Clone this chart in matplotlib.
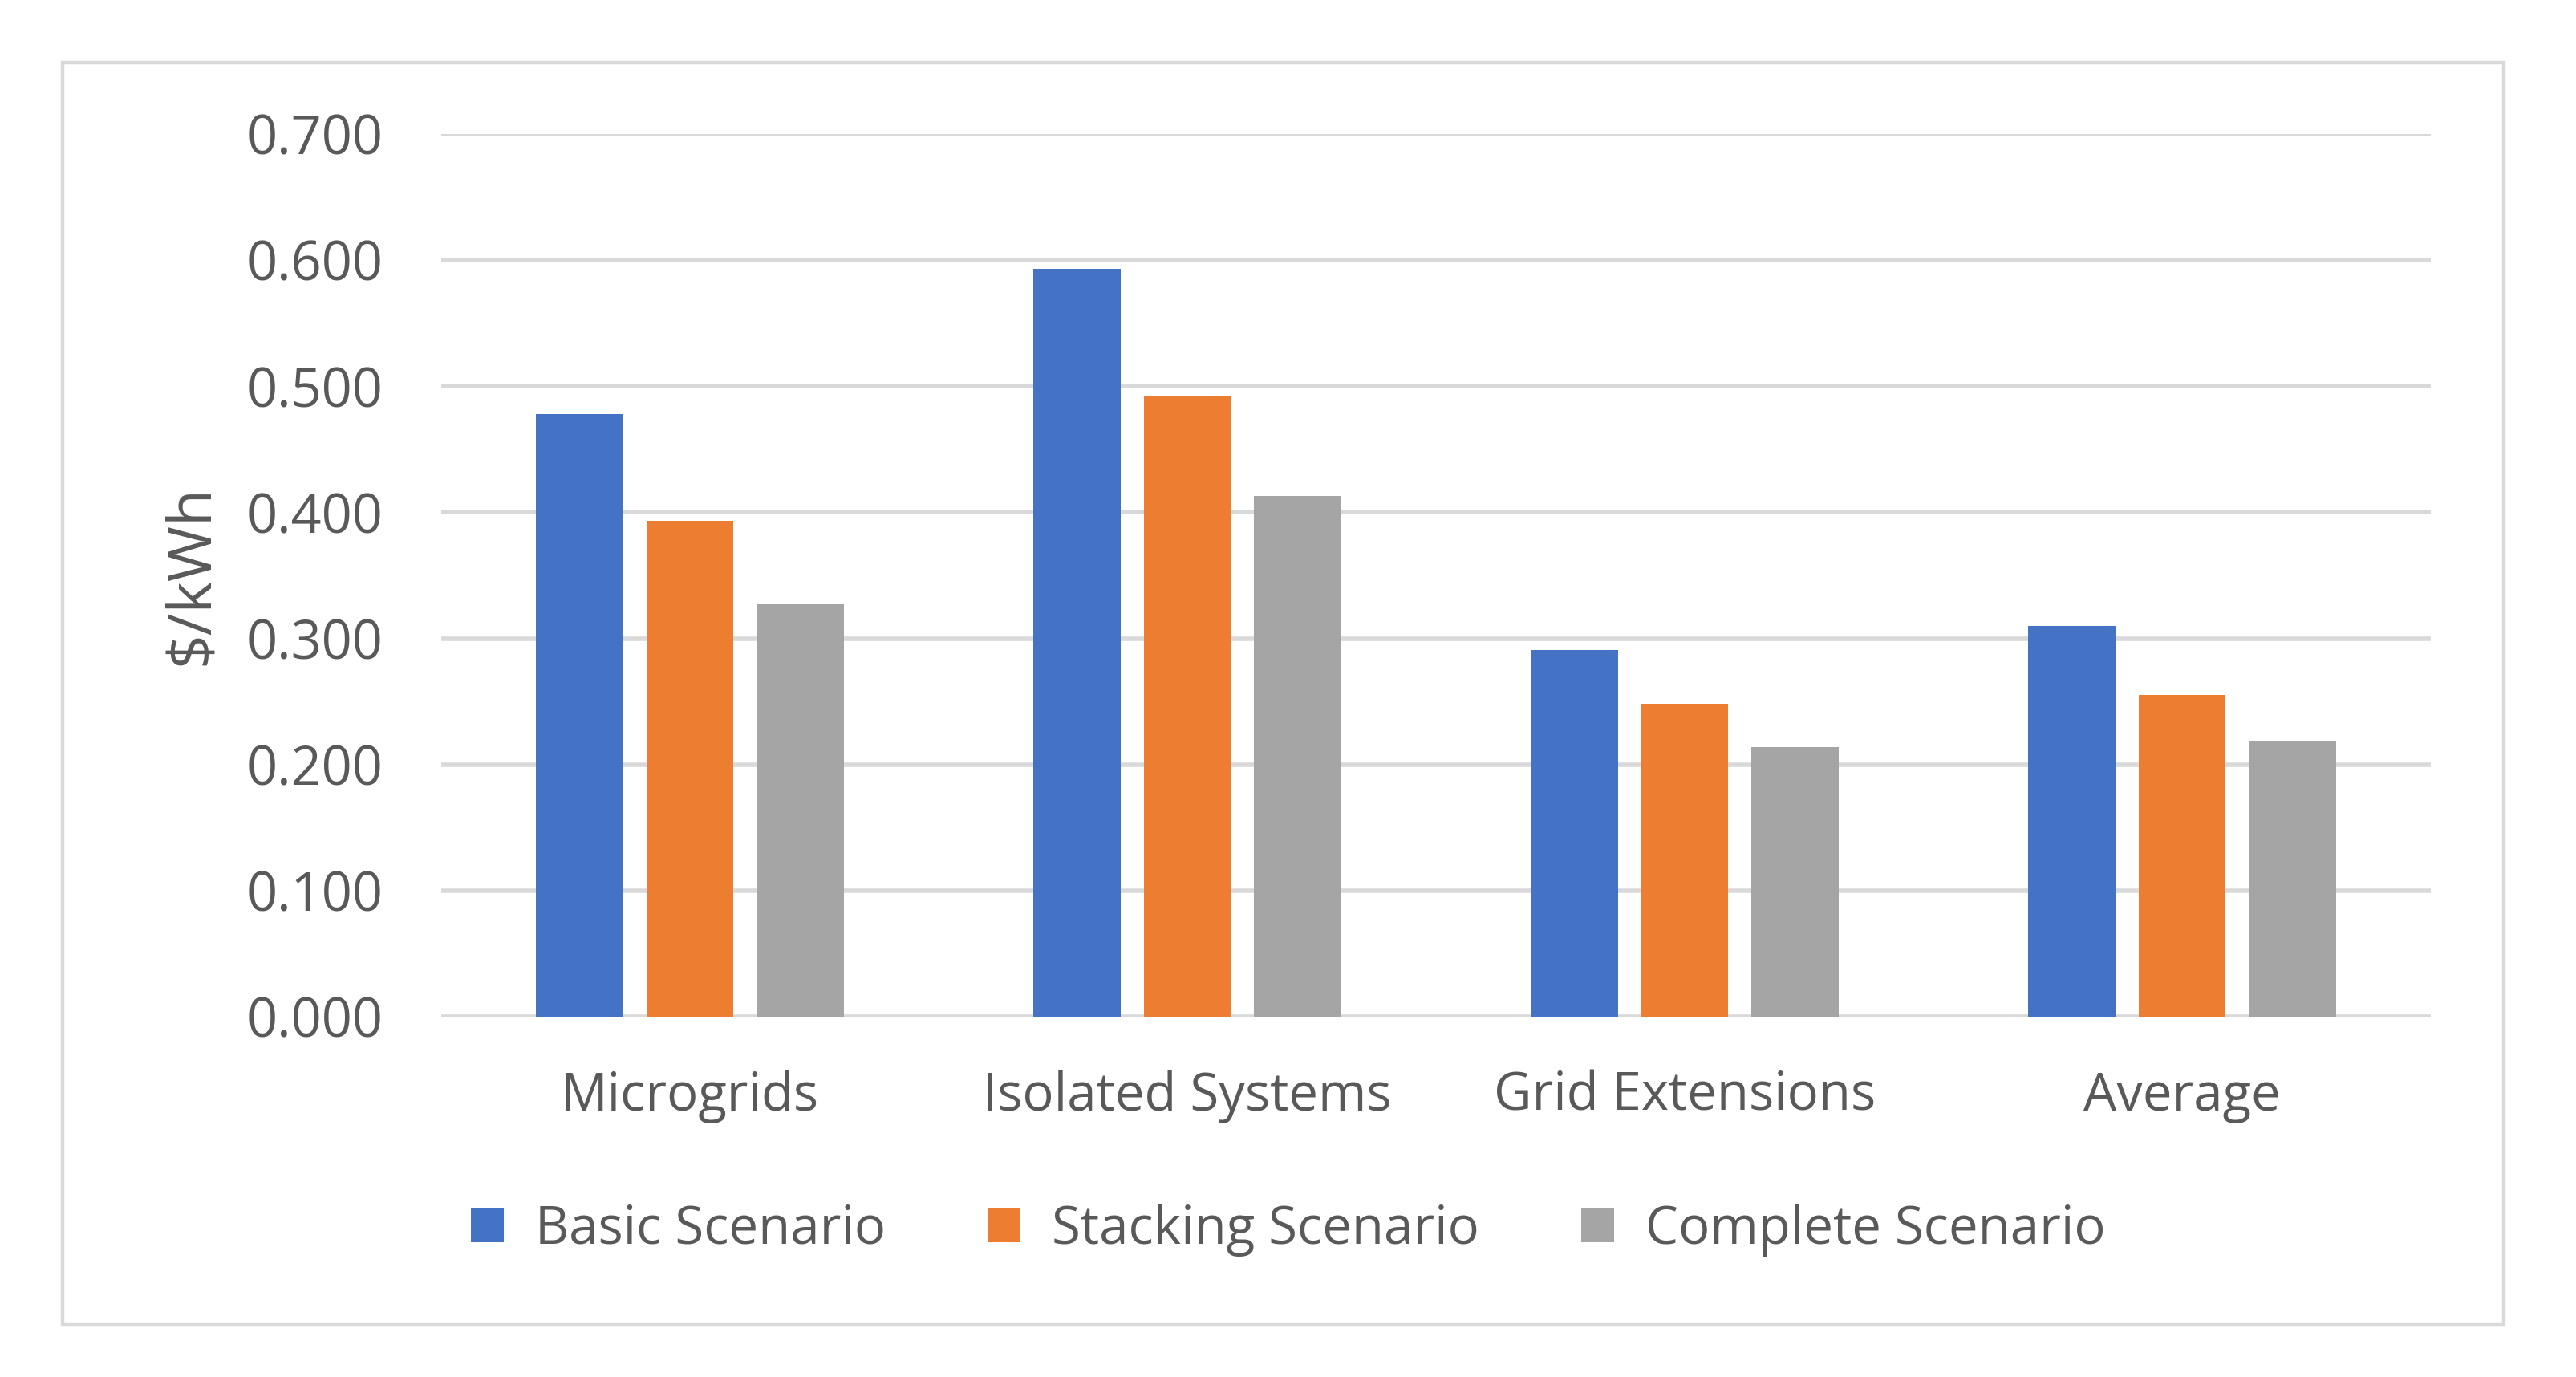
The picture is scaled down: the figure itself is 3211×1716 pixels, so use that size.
import numpy as np
import matplotlib
matplotlib.use("Agg")
import matplotlib.pyplot as plt
from matplotlib.patches import Rectangle

# Chart values ($/kWh)
categories = ["Microgrids", "Isolated Systems", "Grid Extensions", "Average"]
series_names = ["Basic Scenario", "Stacking Scenario", "Complete Scenario"]
basic = [0.478, 0.593, 0.291, 0.310]
stacking = [0.393, 0.492, 0.248, 0.255]
complete = [0.327, 0.413, 0.214, 0.219]
yticks = [0.0, 0.1, 0.2, 0.3, 0.4, 0.5, 0.6, 0.7]

colors = ["#4472C4", "#ED7D31", "#A5A5A5"]
text_color = "#595959"
grid_color = "#D9D9D9"

plt.rcParams["font.family"] = ["Open Sans", "DejaVu Sans"]

W, H, DPI = 3212, 1716, 200
fig = plt.figure(figsize=(W / DPI, H / DPI), dpi=DPI)
fig.patch.set_facecolor("white")

# light grey chart-area border
fig.patches.append(Rectangle((78 / W, 1 - 1651 / H), (3121 - 78) / W, (1651 - 78) / H,
                             transform=fig.transFigure, fill=False,
                             edgecolor=grid_color, linewidth=1.6))

ax = fig.add_axes([550 / W, 1 - 1267 / H, (3030 - 550) / W, (1267 - 167) / H])

x = np.arange(len(categories))
offset = 0.222
width = 0.175
for i, (vals, name) in enumerate(zip([basic, stacking, complete], series_names)):
    ax.bar(x + (i - 1) * offset, vals, width, color=colors[i], label=name, zorder=3)

ax.set_xlim(-0.5, len(categories) - 0.5)
ax.set_ylim(0, 0.7)
ax.set_yticks(yticks)
ax.set_yticklabels([f"{v:.3f}" for v in yticks])
ax.set_xticks(x)
ax.set_xticklabels(categories)

ax.grid(axis="y", color=grid_color, linewidth=2.0, zorder=0)
ax.set_axisbelow(True)
for side in ["top", "right", "left", "bottom"]:
    ax.spines[side].set_visible(False)

ax.tick_params(axis="y", length=0, pad=26, labelsize=24, labelcolor=text_color)
ax.tick_params(axis="x", length=0, pad=24, labelsize=23.5, labelcolor=text_color)

ax.set_ylabel("$/kWh", fontsize=27, color=text_color, labelpad=11)

fig.legend(loc="center", bbox_to_anchor=(0.5, 1 - 1533 / H), ncol=3, frameon=False,
           fontsize=23.5, labelcolor=text_color, handlelength=0.62, handleheight=0.63,
           handletextpad=0.6, columnspacing=1.95)

fig.savefig("out.png", dpi=DPI, facecolor="white")
